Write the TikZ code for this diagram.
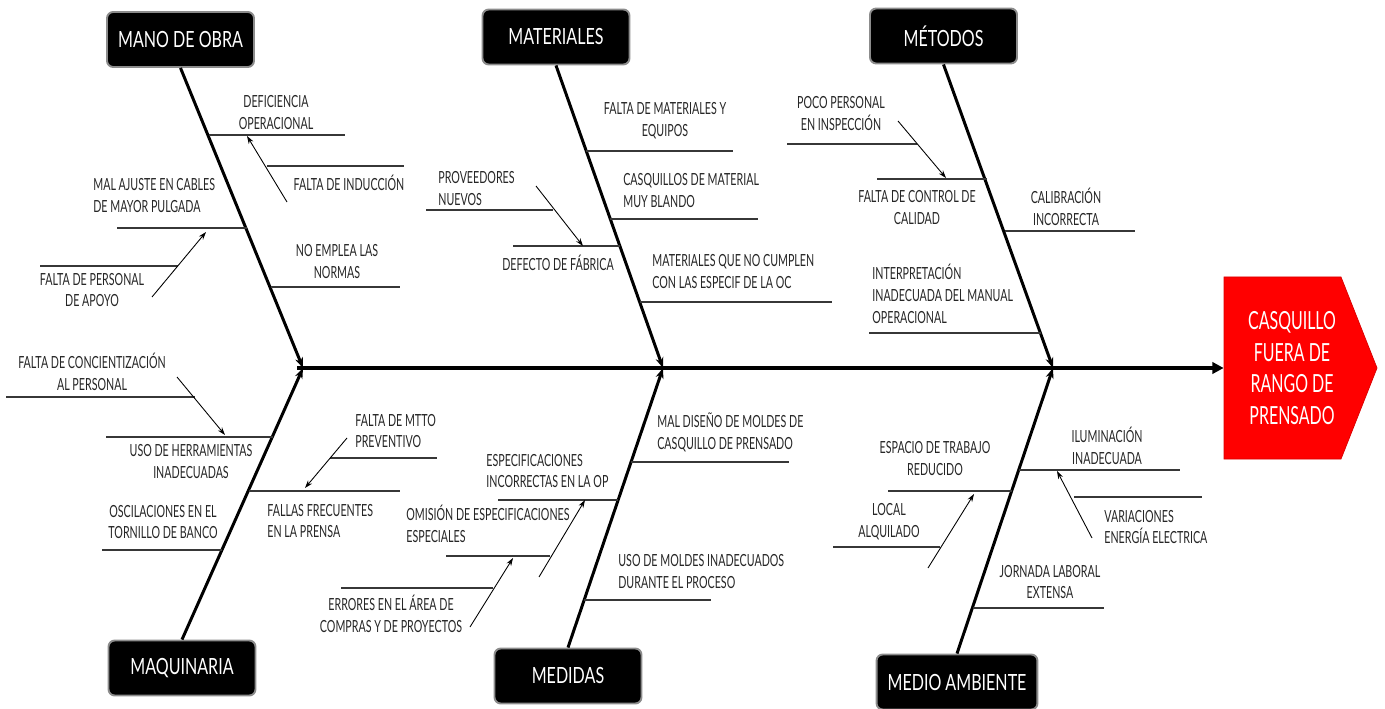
\documentclass[tikz,border=0pt]{standalone}
\usepackage{fontspec}
\newfontfamily\lblfont{Lato}[FakeStretch=0.64]
\newfontfamily\catfont{Lato}[FakeStretch=0.72]
\usepackage{xcolor}
\definecolor{ribgray}{RGB}{55,55,55}
\definecolor{boxedge}{RGB}{140,140,140}
\definecolor{effred}{RGB}{255,0,0}
\usetikzlibrary{arrows.meta}

\begin{document}
\begin{tikzpicture}[
      x=0.02cm,y=-0.02cm,
      lbl/.style={font={\lblfont\fontsize{9.5}{12.5}\selectfont},align=center,
        inner sep=0pt,text=black!85},
      lbll/.style={lbl,align=left,anchor=west},
      cat/.style={draw=boxedge,line width=1.1pt,fill=black,rounded corners=3.5pt,
        text=white,font={\catfont\fontsize{12.7}{15}\selectfont},
        minimum width=2.94cm,minimum height=1.1cm,inner xsep=0.22cm},
      rib/.style={ribgray,line width=0.75pt},
      bone/.style={line width=1.7pt,-{Stealth[length=6pt,width=4.5pt]}},
      spine/.style={line width=2.3pt,-{Triangle[length=6.5pt,width=6.5pt]}},
      sub/.style={line width=0.5pt,-{Stealth[length=4.5pt,width=3pt]}}
    ]
    \useasboundingbox (0,0) rectangle (1385,709);

    % effect head
    \fill[effred,draw=effred!85!black,line width=0.4pt]
    (1224,277) -- (1341,277) -- (1377,368) -- (1341,459) -- (1224,459) -- cycle;
    \node[font={\lblfont\fontsize{14.2}{18}\selectfont},text=white,align=center,
      minimum width=2.72cm,minimum height=3.64cm] (efecto) at (1292,368)
    {CASQUILLO\\FUERA DE\\RANGO DE\\PRENSADO};

    % categories
    \node[cat] (mano) at (180.5,39.5) {MANO DE OBRA};
    \node[cat] (mat) at (556,37) {MATERIALES};
    \node[cat] (met) at (943.5,36) {MÉTODOS};
    \node[cat] (maq) at (182,668) {MAQUINARIA};
    \node[cat] (med) at (568,676) {MEDIDAS};
    \node[cat] (amb) at (957,682) {MEDIO AMBIENTE};

    % spine and bones
    \coordinate (tail) at (297,368);
    \coordinate (jl) at (303,368);
    \coordinate (jm) at (663,368);
    \coordinate (jr) at (1053,368);
    \draw[spine] (tail) -- (efecto);
    \foreach \c/\j in {mano/jl,mat/jm,met/jr} {
      \draw[bone] (\c.south) -- (\j);
    }
    \foreach \c/\j in {maq/jl,med/jm,amb/jr} {
      \draw[bone] (\c.north) -- (\j);
    }

    % ribs: name/x from/x to/y
    \foreach \n/\xa/\xb/\y in {
      mo1/209.4/345/135, mo2/267/404/166, mo3/117/246.9/228,
      mo4/40/178/266, mo5/270.7/400/287,
      ma1/585.8/733/151, ma2/426/553/210, ma3/513/619.7/246,
      ma4/610/758/219, ma5/639.8/832/302,
      me1/787/917/144, me2/877/986.8/179, me3/1005/1135/231,
      me4/869/1041/333,
      mq1/6/195/397, mq2/106/272.6/437, mq3/102/222.2/550,
      mq4/330/437/458, mq5/248.5/400/491,
      md1/631.3/789/462, md2/498/618.4/500, md3/446/550/556,
      md4/341/493/588, md5/584.3/711/600,
      am1/888/1012/491, am2/833/940/547, am3/1019/1180/470,
      am4/1074/1202/497, am5/972.8/1104/608} {
      \coordinate (\n-a) at (\xa,\y);
      \coordinate (\n-b) at (\xb,\y);
      \draw[rib] (\n-a) -- (\n-b);
    }

    % secondary causes
    \foreach \n/\xs/\ys/\xe/\ye in {
      mo2/287/202/247/136, mo4/152/297/206/232,
      ma2/536/186/583/246, me1/898/121/946/178,
      mq1/177/377/225/435, mq4/347/438/305/488,
      md3/539/577/585/500, md4/470/627/513/558,
      am2/928/568/974/494, am4/1092/538/1057/471} {
      \coordinate (\n-s) at (\xs,\ys);
      \coordinate (\n-e) at (\xe,\ye);
      \draw[sub] (\n-s) -- (\n-e);
    }

    % mano de obra
    \node[lbl] (mo1t) at (276,113) {DEFICIENCIA\\OPERACIONAL};
    \node[lbl] (mo2t) at (349,183) {FALTA DE INDUCCIÓN};
    \node[lbll] (mo3t) at (93,196) {MAL AJUSTE EN CABLES\\DE MAYOR PULGADA};
    \node[lbl] (mo4t) at (92,290) {FALTA DE PERSONAL\\DE APOYO};
    \node[lbl] (mo5t) at (337,262) {NO EMPLEA LAS\\NORMAS};
    % materiales
    \node[lbl] (ma1t) at (665,121) {FALTA DE MATERIALES Y\\EQUIPOS};
    \node[lbll] (ma2t) at (438,189) {PROVEEDORES\\NUEVOS};
    \node[lbl] (ma3t) at (558,263) {DEFECTO DE FÁBRICA};
    \node[lbll] (ma4t) at (623,191) {CASQUILLOS DE MATERIAL\\MUY BLANDO};
    \node[lbll] (ma5t) at (652,272) {MATERIALES QUE NO CUMPLEN\\CON LAS ESPECIF DE LA OC};
    % metodos
    \node[lbl] (me1t) at (841,114) {POCO PERSONAL\\EN INSPECCIÓN};
    \node[lbl] (me2t) at (917,208) {FALTA DE CONTROL DE\\CALIDAD};
    \node[lbl] (me3t) at (1066,207) {CALIBRACIÓN\\INCORRECTA};
    \node[lbll] (me4t) at (872,294)
    {INTERPRETACIÓN\\INADECUADA DEL MANUAL\\OPERACIONAL};
    % maquinaria
    \node[lbl] (mq1t) at (92,372) {FALTA DE CONCIENTIZACIÓN\\AL PERSONAL};
    \node[lbl] (mq2t) at (191,462) {USO DE HERRAMIENTAS\\INADECUADAS};
    \node[lbl] (mq3t) at (163,522) {OSCILACIONES EN EL\\TORNILLO DE BANCO};
    \node[lbll] (mq4t) at (355,431) {FALTA DE MTTO\\PREVENTIVO};
    \node[lbll] (mq5t) at (267,521) {FALLAS FRECUENTES\\EN LA PRENSA};
    % medidas
    \node[lbll] (md1t) at (657,432) {MAL DISEÑO DE MOLDES DE\\CASQUILLO DE PRENSADO};
    \node[lbll] (md2t) at (486,471) {ESPECIFICACIONES\\INCORRECTAS EN LA OP};
    \node[lbll] (md3t) at (406,524) {OMISIÓN DE ESPECIFICACIONES\\ESPECIALES};
    \node[lbl] (md4t) at (391,614) {ERRORES EN EL ÁREA DE\\COMPRAS Y DE PROYECTOS};
    \node[lbll] (md5t) at (618,572) {USO DE MOLDES INADECUADOS\\DURANTE EL PROCESO};
    % medio ambiente
    \node[lbl] (am1t) at (935,459) {ESPACIO DE TRABAJO\\REDUCIDO};
    \node[lbl] (am2t) at (889,522) {LOCAL\\ALQUILADO};
    \node[lbl] (am3t) at (1107,446) {ILUMINACIÓN\\INADECUADA};
    \node[lbll] (am4t) at (1104,527) {VARIACIONES\\ENERGÍA ELECTRICA};
    \node[lbl] (am5t) at (1050,582) {JORNADA LABORAL\\EXTENSA};
  \end{tikzpicture}
\end{document}
